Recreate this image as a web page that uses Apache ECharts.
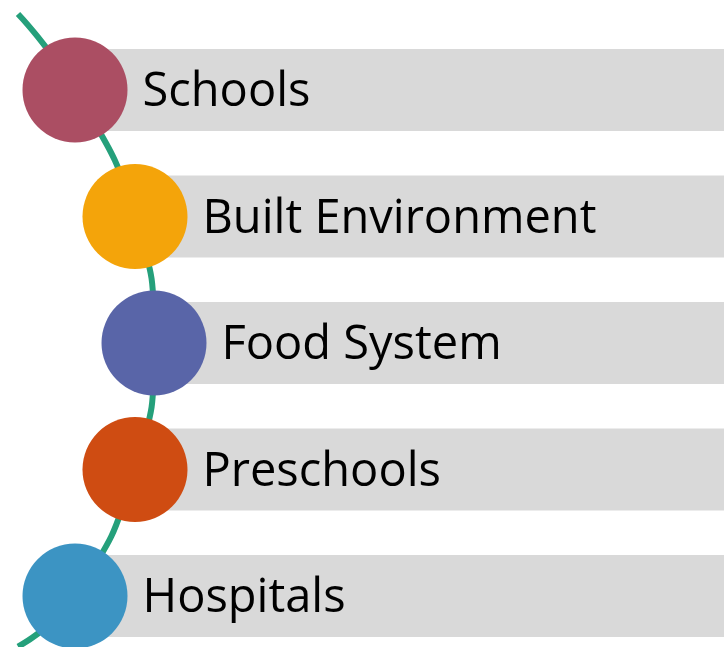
<!DOCTYPE html>
<html>
<head>
<meta charset="utf-8">
<style>html,body{margin:0;padding:0;background:#fff;}#c{width:724px;height:647px;}</style>
<script src="https://cdn.jsdelivr.net/npm/echarts@6/dist/echarts.min.js"></script>
</head>
<body>
<div id="c"></div>
<script>
// Data
var categories = ['Schools', 'Built Environment', 'Food System', 'Preschools', 'Hospitals'];
var indents = [75, 135, 154, 135, 75];          // circle centre x (diagram units)
var colors = ['#AB4E63', '#F4A40A', '#5965A8', '#CF4C12', '#3C94C3'];
var barEnd = 724;
// curve guide points: [x, row]
var curvePoints = [[18, -0.6], [75, 0], [135, 1], [154, 2], [135, 3], [75, 4], [18, 4.4]];

var chart = echarts.init(document.getElementById('c'));

chart.setOption({
  animation: false,
  grid: { left: 0, right: 0, top: 0, bottom: 0 },
  xAxis: { type: 'value', min: 0, max: 724, show: false },
  yAxis: { type: 'value', min: -0.711, max: 4.403, inverse: true, show: false },
  series: [
    {
      type: 'custom',
      z: 1,
      data: categories.map(function (c, i) { return [indents[i], i, barEnd]; }),
      renderItem: function (params, api) {
        var p0 = api.coord([api.value(0), api.value(1)]);
        var p1 = api.coord([api.value(2), api.value(1)]);
        var h = 82;
        return {
          type: 'rect',
          shape: { x: p0[0], y: p0[1] - h / 2, width: p1[0] - p0[0], height: h },
          style: { fill: '#D9D9D9' }
        };
      }
    },
    {
      type: 'line',
      z: 2,
      clip: false,
      smooth: 0.5,
      symbol: 'none',
      data: curvePoints,
      lineStyle: { color: '#25A07B', width: 6 }
    },
    {
      type: 'scatter',
      z: 3,
      symbolSize: 105,
      data: categories.map(function (c, i) {
        return { name: c, value: [indents[i], i], itemStyle: { color: colors[i], opacity: 1 } };
      }),
      label: {
        show: true,
        position: 'right',
        distance: 15,
        offset: [0, 3],
        formatter: '{b}',
        color: '#000',
        fontFamily: 'Open Sans',
        fontSize: 47
      }
    }
  ]
});
</script>
</body>
</html>
